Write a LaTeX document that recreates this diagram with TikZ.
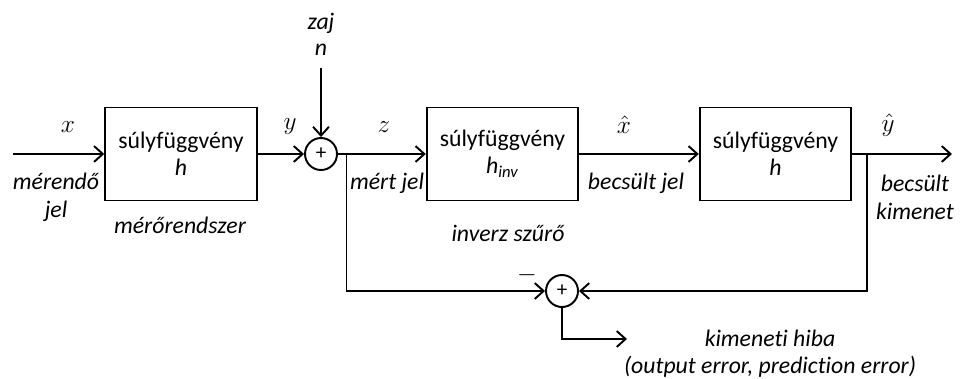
\documentclass[tikz,border=0pt]{standalone}
\usepackage{fontspec}
\setmainfont[Ligatures=NoCommon]{Carlito}
\usetikzlibrary{arrows.meta}
\begin{document}
\begin{tikzpicture}[
	font=\fontsize{13.5}{15.5}\selectfont,
	block/.style={ draw, line width=1.1pt, minimum width=3.03cm, minimum height=1.86cm, align=center, inner sep=0pt },
	sum/.style={ circle, draw, line width=1.1pt, inner sep=0pt, minimum size=0.64cm, font=\fontsize{12}{12}\selectfont },
	lbl/.style={ font=\fontsize{13.5}{16}\selectfont\itshape, align=center, inner sep=0pt },
	sym/.style={ font=\fontsize{14}{14}\selectfont, inner sep=0pt },
	sig/.style={ line width=1.1pt, -{Straight Barb[length=5pt,width=9pt]} }
]
\useasboundingbox (0,0) rectangle (19.2,-7.56);

\node at (3.62,-3.08) (h1) [block] {súlyfüggvény\\\textit{h}};
\node at (10.05,-3.08) (hinv) [block] {súlyfüggvény\\\textit{h\textsubscript{inv}}};
\node at (15.51,-3.08) (h2) [block] {súlyfüggvény\\\textit{h}};

\node at (6.42,-3.08) (s1) [sum] {+};
\node at (11.24,-5.82) (s2) [sum] {+};

\coordinate (in) at (0.26,-3.08);
\coordinate (nz) at (6.42,-1.36);
\coordinate (b1) at (6.93,-3.08);
\coordinate (b2) at (17.34,-3.08);
\coordinate (out) at (19.04,-3.08);
\coordinate (c1) at (6.93,-5.82);
\coordinate (c2) at (17.34,-5.82);
\coordinate (e1) at (11.24,-6.78);
\coordinate (e2) at (12.54,-6.78);

\draw[sig] (in) to (h1);
\draw[sig] (h1) to (s1);
\draw[sig] (nz) to (s1);
\draw[sig] (s1) to (hinv);
\draw[sig] (hinv) to (h2);
\draw[sig] (h2) to (out);
\draw[sig] (b1) to (c1) to (s2);
\draw[sig] (b2) to (c2) to (s2);
\draw[sig] (s2) to (e1) to (e2);

% signal names
\node at (1.36,-2.54) (lx) [sym] {$x$};
\node at (5.8,-2.54) (ly) [sym] {$y$};
\node at (7.68,-2.54) (lz) [sym] {$z$};
\node at (12.48,-2.5) (lxh) [sym] {$\hat{x}$};
\node at (17.76,-2.5) (lyh) [sym] {$\hat{y}$};
\node at (10.54,-5.5) (lmin) [sym] {$-$};

% descriptions
\node at (6.42,-0.46) (lzaj) [lbl] {zaj};
\node at (6.42,-1.0) (ln) [lbl] {n};
\node at (1.12,-3.94) (lmer) [lbl] {mérendő\\jel};
\node at (3.6,-4.5) (lrend) [lbl] {mérőrendszer};
\node at (7.74,-3.66) (lmert) [lbl] {mért jel};
\node at (10.16,-4.66) (linv) [lbl] {inverz szűrő};
\node at (12.72,-3.66) (lbecs) [lbl] {becsült jel};
\node at (18.3,-3.95) (lki) [lbl] {becsült\\kimenet};
\node at (15.4,-6.76) (lhiba) [lbl] {kimeneti hiba};
\node at (15.4,-7.34) (lerr) [lbl] {(output error, prediction error)};

\end{tikzpicture}
\end{document}
